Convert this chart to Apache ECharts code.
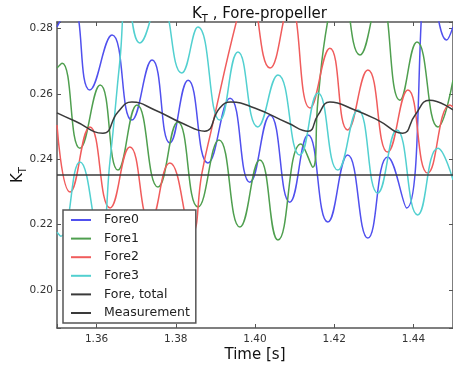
<!DOCTYPE html>
<html>
<head>
<meta charset="utf-8">
<script src="https://cdn.jsdelivr.net/npm/echarts@6/dist/echarts.min.js"></script>
<style>
  html, body { margin: 0; padding: 0; background: #fff; }
  #chart { width: 453px; height: 365px; }
</style>
</head>
<body>
<div id="chart"></div>
<script>
// Thrust coefficient per blade of the fore propeller, [time (s), K_T]
const fore0 = [
  [1.3500, 0.2805], [1.3538, 0.2872], [1.3583, 0.2612], [1.3639, 0.2780], [1.3689, 0.2520],
  [1.3740, 0.2704], [1.3785, 0.2450], [1.3831, 0.2642], [1.3881, 0.2389], [1.3937, 0.2587],
  [1.3987, 0.2330], [1.4038, 0.2535], [1.4088, 0.2269], [1.4134, 0.2474], [1.4184, 0.2208],
  [1.4234, 0.2413], [1.4285, 0.2159], [1.4335, 0.2407], [1.4383, 0.2251], [1.4441, 0.2979],
  [1.4484, 0.2765], [1.4500, 0.2805]
];
const fore1 = [
  [1.3500, 0.2679], [1.3513, 0.2694], [1.3558, 0.2434], [1.3609, 0.2627], [1.3654, 0.2367],
  [1.3702, 0.2566], [1.3755, 0.2315], [1.3805, 0.2514], [1.3856, 0.2254], [1.3909, 0.2459],
  [1.3962, 0.2193], [1.4012, 0.2398], [1.4058, 0.2153], [1.4116, 0.2447], [1.4146, 0.2376],
  [1.4159, 0.2581], [1.4184, 0.2826], [1.4214, 0.2964], [1.4265, 0.2719], [1.4315, 0.2902],
  [1.4366, 0.2581], [1.4409, 0.2759], [1.4462, 0.2499], [1.4500, 0.2642]
];
const fore2 = [
  [1.3500, 0.2505], [1.3533, 0.2300], [1.3583, 0.2499], [1.3634, 0.2251], [1.3684, 0.2438],
  [1.3735, 0.2208], [1.3785, 0.2389], [1.3841, 0.2177], [1.3866, 0.2358], [1.3891, 0.2496],
  [1.3954, 0.2826], [1.3982, 0.2933], [1.4038, 0.2679], [1.4088, 0.2872], [1.4139, 0.2557],
  [1.4189, 0.2740], [1.4234, 0.2490], [1.4285, 0.2673], [1.4335, 0.2422], [1.4386, 0.2612],
  [1.4436, 0.2358], [1.4492, 0.2566], [1.4500, 0.2560]
];
const fore3 = [
  [1.3500, 0.2177], [1.3510, 0.2165], [1.3558, 0.2392], [1.3609, 0.2153], [1.3634, 0.2398],
  [1.3659, 0.2704], [1.3677, 0.2902], [1.3709, 0.2756], [1.3760, 0.2887], [1.3815, 0.2664],
  [1.3856, 0.2805], [1.3911, 0.2520], [1.3957, 0.2728], [1.4007, 0.2499], [1.4058, 0.2658],
  [1.4113, 0.2413], [1.4159, 0.2603], [1.4209, 0.2367], [1.4260, 0.2551], [1.4310, 0.2297],
  [1.4358, 0.2490], [1.4411, 0.2230], [1.4462, 0.2434], [1.4500, 0.2337]
];
const foreTotal = [
  [1.3500, 0.2542], [1.3545, 0.2517], [1.3616, 0.2480], [1.3654, 0.2545], [1.3689, 0.2575],
  [1.3747, 0.2551], [1.3815, 0.2511], [1.3873, 0.2486], [1.3911, 0.2557], [1.3939, 0.2575],
  [1.3999, 0.2557], [1.4083, 0.2511], [1.4134, 0.2486], [1.4159, 0.2535], [1.4189, 0.2575],
  [1.4252, 0.2551], [1.4310, 0.2520], [1.4373, 0.2480], [1.4404, 0.2535], [1.4441, 0.2581],
  [1.4500, 0.2551]
];
const measurement = [[1.3500, 0.2352], [1.4500, 0.2352]];

const seriesNames = ['Fore0', 'Fore1', 'Fore2', 'Fore3', 'Fore, total', 'Measurement'];
const seriesData = [fore0, fore1, fore2, fore3, foreTotal, measurement];
const seriesColors = ['#5050ee', '#4f9f4f', '#f05c5c', '#52d0d0', '#3a3a3a', '#3a3a3a'];

const xTicks = [1.36, 1.38, 1.40, 1.42, 1.44];
const yTicks = [0.20, 0.22, 0.24, 0.26, 0.28];
const xRange = [1.35, 1.45];
const yRange = [0.1884, 0.2820];

const FONT = 'DejaVu Sans';
const frameColor = '#555';

function tickLabel(ticks) {
  return function (v) {
    for (const t of ticks) {
      if (Math.abs(v - t) < 1e-6) return t.toFixed(2);
    }
    return '';
  };
}

const subRich = {
  a: { fontSize: 15, fontFamily: FONT, fontWeight: 'normal', color: '#111', lineHeight: 20 },
  b: { fontSize: 10, fontFamily: FONT, fontWeight: 'normal', color: '#111', lineHeight: 20, verticalAlign: 'bottom', padding: [8, 0, 0, 0] }
};

function xAxisOf(pos, showLabels) {
  return {
    type: 'value', position: pos, min: xRange[0], max: xRange[1], splitNumber: 5,
    axisLine: { show: true, onZero: false, lineStyle: { color: frameColor, width: 1.5 } },
    axisTick: { show: true, inside: true, length: 4, lineStyle: { color: frameColor } },
    axisLabel: { show: showLabels, formatter: tickLabel(xTicks), margin: 6, fontSize: 10.5, fontFamily: FONT, color: '#333' },
    splitLine: { show: false }
  };
}
function yAxisOf(pos, showLabels) {
  return {
    type: 'value', position: pos, min: yRange[0], max: yRange[1], splitNumber: 5,
    axisLine: { show: true, onZero: false, lineStyle: { color: frameColor, width: 1.5 } },
    axisTick: { show: true, inside: true, length: 4, lineStyle: { color: frameColor } },
    axisLabel: { show: showLabels, formatter: tickLabel(yTicks), margin: 4, fontSize: 10.5, fontFamily: FONT, color: '#333' },
    splitLine: { show: false }
  };
}

const xBottom = Object.assign(xAxisOf('bottom', true), {
  name: 'Time [s]', nameLocation: 'middle', nameGap: 20, nameMoveOverlap: false,
  nameTextStyle: { fontSize: 15, fontFamily: FONT, color: '#111' }
});
const yLeft = Object.assign(yAxisOf('left', true), {
  name: '{a|K}{b|T}', nameLocation: 'middle', nameGap: 29, nameRotate: 90, nameMoveOverlap: false,
  nameTextStyle: { rich: subRich }
});

const chart = echarts.init(document.getElementById('chart'), null, { renderer: 'canvas' });
chart.setOption({
  animation: false,
  backgroundColor: '#fff',
  title: {
    text: '{a|K}{b|T}{a| , Fore-propeller}',
    left: 187, top: -1,
    textStyle: { fontWeight: 'normal', rich: subRich }
  },
  grid: { left: 57, right: 0, top: 22, bottom: 37, containLabel: false, outerBoundsMode: 'none' },
  xAxis: [xBottom, xAxisOf('top', false)],
  yAxis: [yLeft, yAxisOf('right', false)],
  legend: {
    orient: 'vertical', left: 63, top: 210,
    data: seriesNames,
    icon: 'rect', itemWidth: 20, itemHeight: 2, itemGap: 2.6,
    padding: [2, 6, 2, 8],
    backgroundColor: '#fff', borderColor: frameColor, borderWidth: 1.5, borderRadius: 0,
    textStyle: { fontSize: 12.5, lineHeight: 16, fontFamily: FONT, color: '#222', padding: [0, 0, 0, 8] }
  },
  series: seriesNames.map((name, i) => ({
    name: name,
    type: 'line',
    data: seriesData[i],
    showSymbol: false,
    smooth: i === 5 ? false : 0.5,
    clip: true,
    color: seriesColors[i],
    lineStyle: { width: 1.5, color: seriesColors[i] },
    emphasis: { disabled: true }
  }))
});
</script>
</body>
</html>
